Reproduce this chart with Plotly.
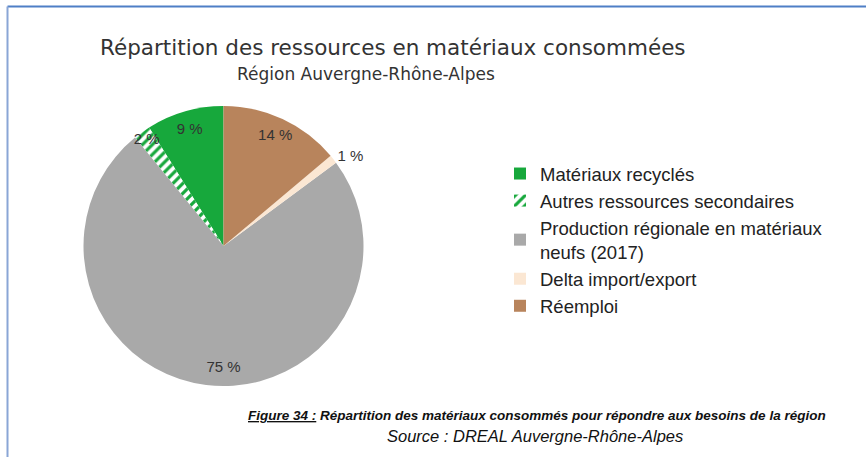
import plotly.graph_objects as go

labels = ["Matériaux recyclés", "Autres ressources secondaires",
          "Production régionale en matériaux<br>neufs (2017)",
          "Delta import/export", "Réemploi"]
values = [9, 2, 75, 1, 14]
colors = ["#17a83c", "#ffffff", "#a9a9a9", "#fbe7d3", "#b8845c"]
text_pos = ["inside", "inside", "inside", "outside", "inside"]

title = "Répartition des ressources en matériaux consommées"
subtitle = "Région Auvergne-Rhône-Alpes"
caption = "<u>Figure 34 :</u> Répartition des matériaux consommés pour répondre aux besoins de la région"
source = "Source : DREAL Auvergne-Rhône-Alpes"

W, H = 866, 457
rot = -values[0] / sum(values) * 360  # first slice starts at 12 o'clock
domain = dict(x=[83.5 / W, 363.5 / W], y=[1 - 386 / H, 1 - 106 / H])

fig = go.Figure()
fig.add_trace(go.Pie(
    labels=labels, values=values, sort=False, direction="counterclockwise",
    rotation=rot,
    marker=dict(colors=colors, line=dict(width=0),
                pattern=dict(shape=["", "/", "", "", ""],
                             fgcolor=["#17a83c"] * 5, bgcolor=colors, size=7, solidity=0.45)),
    textinfo="none",
    domain=domain,
    hoverinfo="label+percent",
))
# transparent ring carrying the labels near the rim
fig.add_trace(go.Pie(
    labels=labels, values=values, sort=False, direction="counterclockwise",
    rotation=rot, hole=0.75, showlegend=False,
    marker=dict(colors=["rgba(0,0,0,0)"] * 5, line=dict(width=0)),
    text=[f"{v} %" for v in values], textinfo="text", textposition=text_pos,
    insidetextorientation="horizontal",
    textfont=dict(family="Liberation Sans", size=15, color="#333333"),
    domain=domain, hoverinfo="skip",
))

fig.update_layout(
    width=W, height=H,
    margin=dict(l=0, r=0, t=0, b=0),
    paper_bgcolor="white",
    uniformtext=dict(mode="show", minsize=15),
    font=dict(family="Liberation Sans", color="#222222"),
    legend=dict(x=500 / W, y=1 - 155 / H, xanchor="left", yanchor="top",
                font=dict(size=18.5, color="#222222"), traceorder="normal"),
    shapes=[
        dict(type="line", xref="paper", yref="paper", x0=7.5 / W, x1=1, y0=1 - 6.5 / H, y1=1 - 6.5 / H,
             line=dict(color="#4f7fc6", width=2)),
        dict(type="line", xref="paper", yref="paper", x0=7.5 / W, x1=7.5 / W, y0=0, y1=1 - 6.5 / H,
             line=dict(color="#8aa6d6", width=2)),
    ],
    annotations=[
        dict(text=title, x=393 / W, y=1 - 48 / H, xref="paper", yref="paper",
             xanchor="center", yanchor="middle", showarrow=False,
             font=dict(family="DejaVu Sans", size=21.5, color="#333333")),
        dict(text=subtitle, x=366 / W, y=1 - 74 / H, xref="paper", yref="paper",
             xanchor="center", yanchor="middle", showarrow=False,
             font=dict(family="DejaVu Sans", size=17, color="#333333")),
        dict(text=f"<b><i>{caption}</i></b>", x=537 / W, y=1 - 415 / H,
             xref="paper", yref="paper", xanchor="center", yanchor="middle", showarrow=False,
             font=dict(size=13.5, color="#111111")),
        dict(text=f"<i>{source}</i>", x=535 / W, y=1 - 436 / H,
             xref="paper", yref="paper", xanchor="center", yanchor="middle", showarrow=False,
             font=dict(size=16.5, color="#111111")),
    ],
)

fig.write_html("out.html", config={"displayModeBar": False},
               post_script="document.body.style.margin='0px';")
